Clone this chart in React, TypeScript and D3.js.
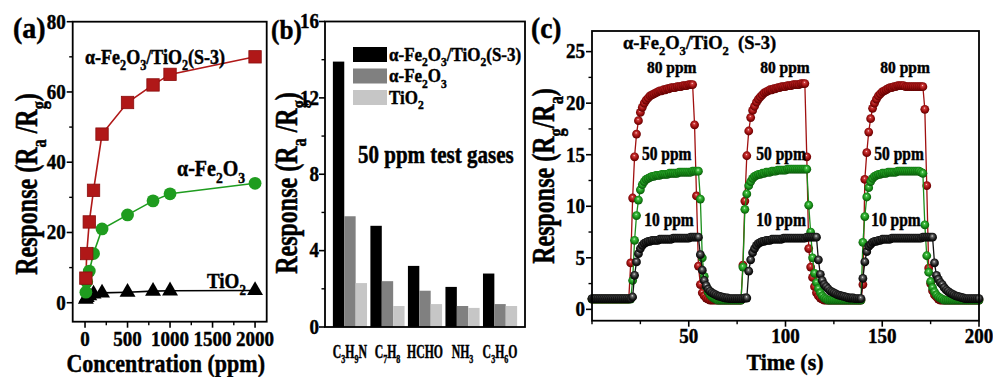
import React from "react";
import * as d3 from "d3";

const FONT = "'Liberation Serif', 'Times New Roman', serif";
const W = 993;
const H = 377;

// ---------- Panel (a): response vs concentration ----------
const concentrations = [10, 20, 50, 100, 200, 500, 800, 1000, 2000];
const compositeResp = [7, 14, 23, 32, 48, 57, 62, 65, 70];
const fe2o3Resp = [3, 6, 9, 14, 21, 25, 29, 31, 34];
const tio2Resp = [1.0, 1.5, 2.0, 2.5, 2.8, 3.0, 3.3, 3.4, 3.5];
const concTicks = [0, 500, 1000, 1500, 2000];
const concMinor = [250, 750, 1250, 1750];
const respTicksA = [0, 20, 40, 60, 80];
const respMinorA = [10, 30, 50, 70];

// ---------- Panel (b): selectivity bars ----------
const gases = ["C3H9N", "C7H8", "HCHO", "NH3", "C3H6O"];
const gasComposite = [13.9, 5.3, 3.2, 2.1, 2.8];
const gasFe2O3 = [5.8, 2.4, 1.9, 1.1, 1.2];
const gasTiO2 = [2.3, 1.1, 1.2, 1.0, 1.1];
const barSeriesNames = ["α-Fe2O3/TiO2(S-3)", "α-Fe2O3", "TiO2"];
const barColors = ["#000000", "#808080", "#c6c6c6"];
const respTicksB = [0, 4, 8, 12, 16];
const respMinorB = [2, 6, 10, 14];

// ---------- Panel (c): dynamic response, one sample per second (t = 0..200 s) ----------
const timeStep = 1;
const resp80 = [
  1.0, 1.0, 1.0, 1.0, 1.0, 1.0, 1.0, 1.0, 1.0, 1.0,
  1.0, 1.0, 1.0, 1.0, 1.0, 1.0, 1.0, 1.0, 1.0, 1.0,
  4.5, 10.8, 14.8, 17.0, 18.3, 19.1, 19.6, 20.0, 20.3, 20.5,
  20.7, 20.8, 20.9, 21.0, 21.1, 21.2, 21.2, 21.3, 21.3, 21.4,
  21.4, 21.5, 21.5, 21.5, 21.6, 21.6, 21.6, 21.7, 21.7, 21.7,
  21.8, 21.8, 21.8, 17.9, 11.0, 4.2, 2.4, 1.6, 1.3, 1.1,
  1.0, 0.9, 0.9, 0.9, 0.9, 0.9, 0.9, 0.9, 0.9, 0.9,
  0.9, 0.9, 0.9, 0.9, 0.9, 0.9, 0.9, 0.9, 4.3, 10.5,
  14.9, 17.3, 18.6, 19.3, 19.7, 20.1, 20.4, 20.6, 20.8, 21.0,
  21.1, 21.2, 21.3, 21.3, 21.4, 21.4, 21.5, 21.5, 21.6, 21.6,
  21.6, 21.7, 21.7, 21.7, 21.8, 21.8, 21.8, 21.8, 21.9, 21.9,
  21.9, 14.8, 5.9, 4.1, 3.1, 2.2, 1.6, 1.3, 1.1, 1.0,
  0.9, 0.9, 0.9, 0.9, 0.9, 0.9, 0.9, 0.9, 0.9, 0.9,
  0.9, 0.9, 0.9, 0.9, 0.9, 0.9, 0.9, 0.9, 0.9, 0.9,
  2.4, 12.6, 15.2, 17.2, 18.5, 19.5, 20.0, 20.4, 20.7, 20.9,
  21.1, 21.2, 21.3, 21.4, 21.5, 21.5, 21.6, 21.6, 21.7, 21.7,
  21.7, 21.7, 21.6, 21.6, 21.6, 21.6, 21.6, 21.6, 21.6, 21.6,
  21.6, 21.6, 19.4, 12.0, 4.0, 2.5, 1.8, 1.4, 1.2, 1.0,
  0.9, 0.9, 0.9, 0.9, 0.9, 0.9, 0.9, 0.9, 0.9, 0.9,
  0.9, 0.9, 0.9, 0.9, 0.9, 0.9, 0.9, 0.9, 0.9, 0.9,
  0.9,
];
const resp50 = [
  1.0, 1.0, 1.0, 1.0, 1.0, 1.0, 1.0, 1.0, 1.0, 1.0,
  1.0, 1.0, 1.0, 1.0, 1.0, 1.0, 1.0, 1.0, 1.0, 1.0,
  1.0, 2.8, 6.7, 9.1, 10.6, 11.6, 12.1, 12.4, 12.6, 12.7,
  12.8, 12.9, 12.9, 13.0, 13.0, 13.0, 13.1, 13.1, 13.1, 13.1,
  13.2, 13.2, 13.2, 13.2, 13.2, 13.3, 13.3, 13.3, 13.3, 13.3,
  13.3, 13.3, 13.4, 13.4, 13.4, 13.4, 10.7, 5.0, 3.2, 2.2,
  1.7, 1.4, 1.2, 1.1, 1.0, 0.9, 0.9, 0.9, 0.9, 0.9,
  0.9, 0.9, 0.9, 0.9, 0.9, 0.9, 0.9, 0.9, 4.1, 9.7,
  11.2, 12.0, 12.4, 12.7, 12.9, 13.0, 13.1, 13.1, 13.2, 13.2,
  13.3, 13.3, 13.3, 13.4, 13.4, 13.4, 13.5, 13.5, 13.5, 13.5,
  13.5, 13.6, 13.6, 13.6, 13.6, 13.6, 13.6, 13.6, 13.6, 13.6,
  13.6, 13.6, 10.1, 7.5, 5.0, 3.5, 2.6, 2.0, 1.6, 1.3,
  1.1, 1.0, 0.9, 0.9, 0.9, 0.9, 0.9, 0.9, 0.9, 0.9,
  0.9, 0.9, 0.9, 0.9, 0.9, 0.9, 0.9, 0.9, 0.9, 0.9,
  6.5, 9.0, 10.9, 11.8, 12.4, 12.7, 12.9, 13.0, 13.1, 13.1,
  13.2, 13.2, 13.2, 13.3, 13.3, 13.3, 13.3, 13.3, 13.4, 13.4,
  13.4, 13.4, 13.4, 13.4, 13.4, 13.4, 13.4, 13.4, 13.4, 13.4,
  13.3, 13.2, 8.2, 5.2, 3.6, 2.7, 2.1, 1.7, 1.4, 1.2,
  1.1, 1.0, 0.9, 0.9, 0.9, 0.9, 0.9, 0.9, 0.9, 0.9,
  0.9, 0.9, 0.9, 0.9, 0.9, 0.9, 0.9, 0.9, 0.9, 0.9,
  0.9,
];
const resp10 = [
  1.05, 1.05, 1.05, 1.05, 1.05, 1.05, 1.05, 1.05, 1.05, 1.05,
  1.05, 1.05, 1.05, 1.05, 1.05, 1.05, 1.05, 1.05, 1.05, 1.05,
  1.05, 1.2, 3.3, 4.6, 5.4, 5.9, 6.2, 6.4, 6.5, 6.6,
  6.6, 6.7, 6.7, 6.7, 6.7, 6.8, 6.8, 6.8, 6.8, 6.8,
  6.8, 6.8, 6.9, 6.9, 6.9, 6.9, 6.9, 6.9, 6.9, 6.9,
  6.9, 7.0, 7.0, 7.0, 7.0, 7.0, 5.3, 3.8, 2.8, 2.3,
  1.95, 1.75, 1.6, 1.5, 1.4, 1.3, 1.25, 1.2, 1.15, 1.1,
  1.1, 1.05, 1.05, 1.05, 1.05, 1.05, 1.05, 1.05, 1.05, 1.1,
  1.1, 3.7, 4.8, 5.5, 5.9, 6.2, 6.4, 6.5, 6.6, 6.6,
  6.7, 6.7, 6.7, 6.8, 6.8, 6.8, 6.8, 6.8, 6.8, 6.9,
  6.9, 6.9, 6.9, 6.9, 6.9, 6.9, 6.9, 6.9, 6.9, 6.9,
  6.9, 7.0, 7.0, 7.0, 7.0, 7.0, 7.0, 4.8, 3.4, 2.8,
  2.4, 2.2, 2.0, 1.8, 1.7, 1.6, 1.5, 1.4, 1.35, 1.3,
  1.25, 1.2, 1.15, 1.1, 1.1, 1.1, 1.05, 1.05, 1.05, 1.05,
  3.0, 4.6, 5.6, 6.1, 6.3, 6.5, 6.6, 6.6, 6.7, 6.7,
  6.8, 6.8, 6.8, 6.8, 6.8, 6.9, 6.9, 6.9, 6.9, 6.9,
  6.9, 6.9, 6.9, 6.9, 6.9, 6.9, 6.9, 6.9, 6.9, 6.9,
  6.9, 7.0, 7.0, 7.0, 7.0, 7.0, 7.0, 4.5, 3.3, 2.9,
  2.6, 2.4, 2.1, 1.9, 1.75, 1.6, 1.5, 1.4, 1.3, 1.25,
  1.2, 1.15, 1.1, 1.05, 1.05, 1.05, 1.05, 1.05, 1.05, 1.05,
  1.05,
];
const timeTicks = [50, 100, 150, 200];
const timeMinor = [0, 25, 75, 125, 175];
const respTicksC = [0, 5, 10, 15, 20, 25];
const respMinorC = [2.5, 7.5, 12.5, 17.5, 22.5];
const cycleLabelT80 = [41.2, 99.7, 161.8];
const cycleLabelT50 = [38.6, 97.7, 158.7];
const cycleLabelT10 = [39.8, 97.7, 157.1];

// ---------- helpers ----------
type Part = { t: string; sub?: boolean };

function chem(s: string): Part[] {
  const out: Part[] = [];
  for (let i = 0; i < s.length; i++) {
    const ch = s[i];
    const sub = /[0-9]/.test(ch) && i > 0 && /[A-Za-z]/.test(s[i - 1]);
    const last = out[out.length - 1];
    if (last && !!last.sub === sub) last.t += ch;
    else out.push({ t: ch, sub });
  }
  return out;
}

function RichText(props: {
  x: number;
  y: number;
  parts: Part[];
  size: number;
  anchor?: string;
  rotate?: number;
  gx?: number;
  gy?: number;
}) {
  const { x, y, parts, size, anchor = "start", rotate = 0, gx = 1, gy = 1.15 } = props;
  let level = 0;
  const kids = parts.map((p, i) => {
    const target = p.sub ? 1 : 0;
    const dy = (target - level) * size * 0.3;
    level = target;
    return (
      <tspan key={i} dy={dy !== 0 ? dy : undefined} fontSize={p.sub ? size * 0.68 : size}>
        {p.t}
      </tspan>
    );
  });
  const tf =
    `translate(${x},${y})` +
    (rotate ? ` rotate(${rotate})` : "") +
    ` scale(${gx},${gy})`;
  return (
    <text
      transform={tf}
      textAnchor={anchor as any}
      fontFamily={FONT}
      fontWeight="bold"
      fontSize={size}
      fill="#000"
      stroke="#000"
      strokeWidth={0.4}
      style={{ whiteSpace: "pre" }}
    >
      {kids}
    </text>
  );
}

const TICK_FS = 19;

function LeftAxis(props: {
  scale: (v: number) => number;
  x: number;
  major: number[];
  minor: number[];
  gap?: number;
}) {
  const { scale, x, major, minor, gap = 7 } = props;
  return (
    <g>
      {minor.map((v) => (
        <line key={"m" + v} x1={x} x2={x - 3.5} y1={scale(v)} y2={scale(v)} stroke="#000" strokeWidth={1.4} />
      ))}
      {major.map((v) => (
        <g key={"M" + v}>
          <line x1={x} x2={x - 6} y1={scale(v)} y2={scale(v)} stroke="#000" strokeWidth={1.6} />
          <RichText x={x - gap} y={scale(v) + 6.8} parts={[{ t: String(v) }]} size={TICK_FS} anchor="end" />
        </g>
      ))}
    </g>
  );
}

function BottomAxis(props: {
  scale: (v: number) => number;
  y: number;
  major: number[];
  minor: number[];
  labelY: number;
}) {
  const { scale, y, major, minor, labelY } = props;
  return (
    <g>
      {minor.map((v) => (
        <line key={"m" + v} x1={scale(v)} x2={scale(v)} y1={y} y2={y + 3.5} stroke="#000" strokeWidth={1.4} />
      ))}
      {major.map((v) => (
        <g key={"M" + v}>
          <line x1={scale(v)} x2={scale(v)} y1={y} y2={y + 6} stroke="#000" strokeWidth={1.6} />
          <RichText x={scale(v)} y={labelY} parts={[{ t: String(v) }]} size={TICK_FS} anchor="middle" />
        </g>
      ))}
    </g>
  );
}

const respLabelA: Part[] = [
  { t: "Response (R" },
  { t: "a", sub: true },
  { t: " /R" },
  { t: "g", sub: true },
  { t: ")" },
];
const respLabelC: Part[] = [
  { t: "Response (R" },
  { t: "g", sub: true },
  { t: "/R" },
  { t: "a", sub: true },
  { t: ")" },
];

export default function App() {
  // panel boxes
  const A = { left: 72.7, right: 266.7, top: 21.7, bottom: 321.7 };
  const B = { left: 325, right: 525, top: 21.5, bottom: 327 };
  const C = { left: 592, right: 979, top: 31, bottom: 320.7 };

  // scales
  const xA = d3.scaleLinear().domain([-145, 2137]).range([A.left, A.right]);
  const yA = d3.scaleLinear().domain([-5.4, 80]).range([A.bottom, A.top]);
  const xB = d3.scaleBand<string>().domain(gases).range([B.left, B.right]).paddingInner(0.09).paddingOuter(0.21);
  const xBsub = d3.scaleBand<number>().domain([0, 1, 2]).range([0, xB.bandwidth()]);
  const yB = d3.scaleLinear().domain([0, 16]).range([B.bottom, B.top]);
  const xC = d3.scaleLinear().domain([0, 200]).range([C.left, C.right]);
  const yC = d3.scaleLinear().domain([-1.1, 27]).range([C.bottom, C.top]);

  const red = "#b01818";
  const green = "#1f9c1f";

  const lineA = (vals: number[]) =>
    d3
      .line<number>()
      .x((_, i) => xA(concentrations[i]))
      .y((d) => yA(d))(vals) || "";

  const triPath = d3.symbol().type(d3.symbolTriangle).size(110)() || "";

  const barSeries = [gasComposite, gasFe2O3, gasTiO2];

  const times = resp80.map((_, i) => i * timeStep);
  const lineC = (vals: number[]) =>
    d3
      .line<number>()
      .x((_, i) => xC(times[i]))
      .y((d) => yC(d))(vals) || "";

  const seriesC = [
    { vals: resp80, color: "#a01010", grad: "ballRed" },
    { vals: resp50, color: "#1a8f1a", grad: "ballGreen" },
    { vals: resp10, color: "#111111", grad: "ballBlack" },
  ];

  return (
    <svg
      width={W}
      height={H}
      style={{ position: "absolute", left: 0, top: 0, background: "#fff" }}
    >
      <defs>
        <radialGradient id="ballRed" cx="50%" cy="45%" r="55%" fx="45%" fy="35%">
          <stop offset="0%" stopColor="#ffe0e0" />
          <stop offset="22%" stopColor="#cc3a3a" />
          <stop offset="65%" stopColor="#9a0d0d" />
          <stop offset="100%" stopColor="#5c0000" />
        </radialGradient>
        <radialGradient id="ballGreen" cx="50%" cy="45%" r="55%" fx="45%" fy="35%">
          <stop offset="0%" stopColor="#e6ffe6" />
          <stop offset="22%" stopColor="#48c048" />
          <stop offset="65%" stopColor="#178e17" />
          <stop offset="100%" stopColor="#0a560a" />
        </radialGradient>
        <radialGradient id="ballBlack" cx="50%" cy="45%" r="55%" fx="45%" fy="35%">
          <stop offset="0%" stopColor="#f0f0f0" />
          <stop offset="22%" stopColor="#6a6a6a" />
          <stop offset="65%" stopColor="#1c1c1c" />
          <stop offset="100%" stopColor="#000000" />
        </radialGradient>
      </defs>
      <rect x={0} y={0} width={W} height={H} fill="#fff" />

      {/* ================= Panel (a) ================= */}
      <g>
        <path d={lineA(compositeResp)} fill="none" stroke={red} strokeWidth={1.6} />
        <path d={lineA(fe2o3Resp)} fill="none" stroke={green} strokeWidth={1.6} />
        <path d={lineA(tio2Resp)} fill="none" stroke="#000" strokeWidth={1.6} />
        {tio2Resp.map((v, i) => (
          <path
            key={"t" + i}
            d={triPath}
            transform={`translate(${xA(concentrations[i])},${yA(v)})`}
            fill="#000"
          />
        ))}
        {fe2o3Resp.map((v, i) => (
          <circle key={"g" + i} cx={xA(concentrations[i])} cy={yA(v)} r={6.4} fill={green} />
        ))}
        {compositeResp.map((v, i) => (
          <rect
            key={"r" + i}
            x={xA(concentrations[i]) - 6.2}
            y={yA(v) - 6.2}
            width={12.4}
            height={12.4}
            fill={red}
            stroke="#8a0e0e"
            strokeWidth={0.8}
          />
        ))}
        <rect
          x={A.left}
          y={A.top}
          width={A.right - A.left}
          height={A.bottom - A.top}
          fill="none"
          stroke="#000"
          strokeWidth={1.8}
        />
        <LeftAxis scale={yA} x={A.left} major={respTicksA} minor={respMinorA} />
        <BottomAxis scale={xA} y={A.bottom} major={concTicks} minor={concMinor} labelY={346} />
        <RichText x={xA(0)} y={yA(68)} parts={chem("α-Fe2O3/TiO2(S-3)")} size={18} />
        <RichText x={xA(1082)} y={yA(36)} parts={chem("α-Fe2O3")} size={20} />
        <RichText x={xA(1435)} y={yA(4.2)} parts={chem("TiO2")} size={19} />
        <RichText x={37} y={184} parts={respLabelA} size={24} anchor="middle" rotate={-90} gy={1.3} />
        <RichText
          x={(A.left + A.right) / 2 - 4}
          y={372}
          parts={[{ t: "Concentration (ppm)" }]}
          size={22}
          anchor="middle"
          gy={1.12}
        />
        <RichText x={13} y={38} parts={[{ t: "(a)" }]} size={25} gx={1.12} />
      </g>

      {/* ================= Panel (b) ================= */}
      <g>
        {gases.map((g, gi) => (
          <g key={g}>
            {barSeries.map((s, si) => (
              <rect
                key={si}
                x={(xB(g) || 0) + (xBsub(si) || 0)}
                y={yB(s[gi])}
                width={xBsub.bandwidth()}
                height={yB(0) - yB(s[gi])}
                fill={barColors[si]}
              />
            ))}
            <RichText
              x={(xB(g) || 0) + xB.bandwidth() / 2}
              y={358}
              parts={chem(g)}
              size={15.5}
              anchor="middle"
              gx={0.76}
              gy={1.15}
            />
          </g>
        ))}
        <rect
          x={B.left}
          y={B.top}
          width={B.right - B.left}
          height={B.bottom - B.top}
          fill="none"
          stroke="#000"
          strokeWidth={1.8}
        />
        <LeftAxis scale={yB} x={B.left} major={respTicksB} minor={respMinorB} gap={6} />
        {barSeriesNames.map((name, i) => (
          <g key={name}>
            <rect x={353} y={47 + i * 21.5} width={34} height={15} fill={barColors[i]} />
            <RichText x={389} y={60.5 + i * 21.5} parts={chem(name)} size={17} />
          </g>
        ))}
        <RichText x={358} y={yB(8.6)} parts={[{ t: "50 ppm test gases" }]} size={21} />
        <RichText x={297} y={183} parts={respLabelA} size={24} anchor="middle" rotate={-90} gy={1.3} />
        <RichText x={271} y={39} parts={[{ t: "(b)" }]} size={24} gx={1.05} />
      </g>

      {/* ================= Panel (c) ================= */}
      <g>
        {seriesC.map((s) => (
          <g key={s.grad}>
            <path d={lineC(s.vals)} fill="none" stroke={s.color} strokeWidth={1.3} />
            {s.vals.map((v, i) => (
              <circle key={i} cx={xC(times[i])} cy={yC(v)} r={4.4} fill={`url(#${s.grad})`} />
            ))}
          </g>
        ))}
        <rect
          x={C.left}
          y={C.top}
          width={C.right - C.left}
          height={C.bottom - C.top}
          fill="none"
          stroke="#000"
          strokeWidth={1.8}
        />
        <LeftAxis scale={yC} x={C.left} major={respTicksC} minor={respMinorC} />
        <BottomAxis scale={xC} y={C.bottom} major={timeTicks} minor={timeMinor} labelY={343} />
        <RichText x={xC(16)} y={yC(25.25)} parts={chem("α-Fe2O3/TiO2  (S-3)")} size={18.5} gy={1.05} />
        {cycleLabelT80.map((t, i) => (
          <RichText
            key={"l80" + i}
            x={xC(t)}
            y={yC(22.95)}
            parts={[{ t: "80 ppm" }]}
            size={15.5}
            anchor="middle"
            gy={1.05}
          />
        ))}
        {cycleLabelT50.map((t, i) => (
          <RichText key={"l50" + i} x={xC(t)} y={yC(14.5)} parts={[{ t: "50 ppm" }]} size={15.5} anchor="middle" />
        ))}
        {cycleLabelT10.map((t, i) => (
          <RichText key={"l10" + i} x={xC(t)} y={yC(8.1)} parts={[{ t: "10 ppm" }]} size={15.5} anchor="middle" />
        ))}
        <RichText x={554} y={176} parts={respLabelC} size={24} anchor="middle" rotate={-90} gy={1.3} />
        <RichText x={785} y={369.5} parts={[{ t: "Time (s)" }]} size={22} anchor="middle" gy={1.06} />
        <RichText x={531} y={38} parts={[{ t: "(c)" }]} size={25} gx={1.1} />
      </g>
    </svg>
  );
}
